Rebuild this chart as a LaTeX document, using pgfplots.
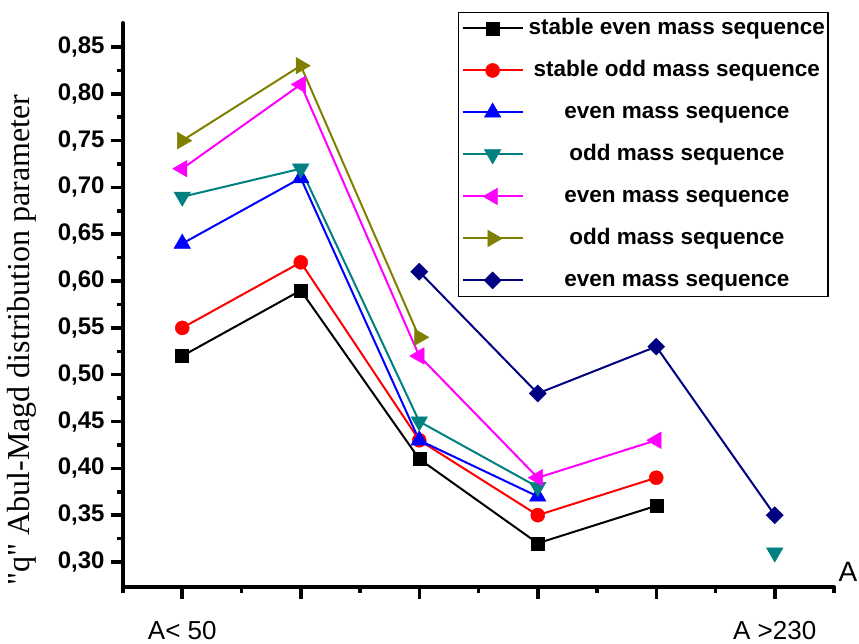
\documentclass[border=0pt]{standalone}
\usepackage{fontspec}
\setmainfont{Liberation Sans}
\newfontfamily\seriffont{Liberation Serif}
\usepackage{pgfplots}
\pgfplotsset{compat=1.18}
\definecolor{cteal}{RGB}{0,128,128}
\definecolor{colive}{RGB}{128,128,0}
\definecolor{cnavy}{RGB}{0,0,128}
\definecolor{cmag}{RGB}{255,0,255}
\definecolor{cred}{RGB}{255,0,0}
\definecolor{cblue}{RGB}{0,0,255}
\begin{document}
\begin{tikzpicture}
\useasboundingbox (-123pt,-57pt) rectangle (736pt,587pt);
\begin{axis}[
 at={(0pt,0pt)}, anchor=south west,
 scale only axis, width=711pt, height=564pt,
 xmin=-0.5, xmax=5.5, ymin=0.2733, ymax=0.8756,
 axis lines=left, axis line style={-},
 every outer x axis line/.append style={line width=4pt, line cap=round},
 every outer y axis line/.append style={line width=4pt, line cap=round},
 tick align=outside,
 major tick length=12pt, minor tick length=6pt,
 every tick/.style={black, line width=3.5pt},
 xtick={0,1,2,3,4,5},
 xticklabels={A< 50,,,,,A >230},
 minor xtick={-0.5,0.5,1.5,2.5,3.5,4.5,5.5},
 ytick={0.30,0.35,...,0.86},
 minor y tick num=1,
 xticklabel style={font=\fontsize{26}{28}\selectfont, yshift=-19pt},
 yticklabel style={font=\bfseries\fontsize{24}{26}\selectfont, xshift=-3pt,
   /pgf/number format/.cd, fixed, fixed zerofill, precision=2, use comma, assume math mode=true},
 ylabel={\seriffont "q" Abul-Magd distribution parameter},
 ylabel style={at={(axis description cs:-0.142,0.438)}, anchor=center, font=\fontsize{32}{34}\selectfont},
 xlabel={A},
 xlabel style={at={(rel axis cs:1,0)}, anchor=center, xshift=14pt, yshift=15pt, font=\fontsize{28}{30}\selectfont},
 unbounded coords=jump,
 legend style={at={(rel axis cs:0.471,1.02)}, anchor=north west, draw=black, line width=1.5pt,
   font=\bfseries\fontsize{22.5}{24}\selectfont, inner xsep=3pt, inner ysep=5pt,
   nodes={inner sep=0pt, text height=17pt, text depth=5pt}, row sep=20pt,
   /tikz/every odd column/.append style={column sep=5pt}},
 legend cell align=center,
 legend image code/.code={\draw[mark repeat=2,mark phase=2,#1] plot coordinates {(0pt,0pt) (30pt,0pt) (60pt,0pt)};},
]
\addplot[black, line width=2pt, mark=square*, mark size=6.5pt, mark options={solid, line width=0.5pt}]
 coordinates {(0,0.52) (1,0.59) (2,0.41) (3,0.32) (4,0.36)};
\addlegendentry{stable even mass sequence}
\addplot[cred, line width=2pt, mark=*, mark size=7pt, mark options={solid, line width=0.5pt}]
 coordinates {(0,0.55) (1,0.62) (2,0.43) (3,0.35) (4,0.39)};
\addlegendentry{stable odd mass sequence}
\addplot[cblue, line width=2pt, mark=triangle*, mark size=9.5pt, mark options={solid, line width=0.5pt}]
 coordinates {(0,0.64) (1,0.71) (2,0.43) (3,0.37)};
\addlegendentry{even mass sequence}
\addplot[cteal, line width=2pt, mark=triangle*, mark size=9.5pt, mark options={solid, rotate=180, line width=0.5pt}]
 coordinates {(0,0.69) (1,0.72) (2,0.45) (3,0.38) (4,nan) (5,0.31)};
\addlegendentry{odd mass sequence}
\addplot[cmag, line width=2pt, mark=triangle*, mark size=9.5pt, mark options={solid, rotate=90, line width=0.5pt}]
 coordinates {(0,0.72) (1,0.81) (2,0.52) (3,0.39) (4,0.43)};
\addlegendentry{even mass sequence}
\addplot[colive, line width=2pt, mark=triangle*, mark size=9.5pt, mark options={solid, rotate=-90, line width=0.5pt}]
 coordinates {(0,0.75) (1,0.83) (2,0.54)};
\addlegendentry{odd mass sequence}
\addplot[cnavy, line width=2pt, mark=square*, mark size=6pt, mark options={solid, rotate=45, line width=0.5pt}]
 coordinates {(2,0.61) (3,0.48) (4,0.53) (5,0.35)};
\addlegendentry{even mass sequence}
\end{axis}
\end{tikzpicture}
\end{document}
